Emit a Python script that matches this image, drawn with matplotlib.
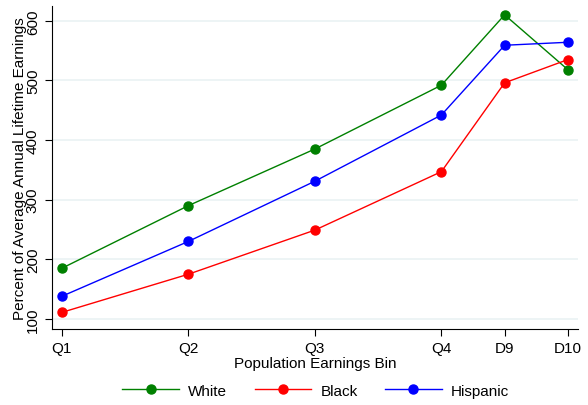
import matplotlib.pyplot as plt

plt.rcParams['font.family'] = ['Liberation Sans', 'DejaVu Sans']

# earnings bins and their positions on the x axis
bins = ['Q1', 'Q2', 'Q3', 'Q4', 'D9', 'D10']
bin_pos = [1, 3, 5, 7, 8, 9]

# percent of average annual lifetime earnings
white = [185, 290, 385, 492, 610, 518]
black = [111, 175, 249, 347, 496, 535]
hispanic = [138, 230, 331, 442, 559, 564]

fig, ax = plt.subplots(figsize=(5.88, 4.06), dpi=100)
fig.subplots_adjust(left=0.088, right=0.983, top=0.983, bottom=0.187)

ax.plot(bin_pos, white, color='green', marker='o', markersize=6.5, lw=1.0, label='White')
ax.plot(bin_pos, black, color='red', marker='o', markersize=6.5, lw=1.0, label='Black')
ax.plot(bin_pos, hispanic, color='blue', marker='o', markersize=6.5, lw=1.0, label='Hispanic')

ax.set_xlim(0.84, 9.16)
ax.set_ylim(83, 625)
ax.set_xticks(bin_pos)
ax.set_xticklabels(bins)
ax.set_yticks([100, 200, 300, 400, 500, 600])
ax.set_yticklabels(['100', '200', '300', '400', '500', '600'], rotation=90, va='center')
ax.tick_params(labelsize=11, length=5, width=0.8)
ax.yaxis.grid(True, color='#eaf2f3', lw=1.2)
ax.set_axisbelow(True)

for side in ['top', 'right']:
    ax.spines[side].set_visible(False)

ax.set_xlabel('Population Earnings Bin', fontsize=11, labelpad=1)
ax.set_ylabel('Percent of Average Annual Lifetime Earnings', fontsize=11, labelpad=-1)

fig.legend(loc='center', ncol=3, frameon=False, fontsize=11,
           bbox_to_anchor=(0.537, 0.035), handlelength=3.7, handletextpad=0.6,
           columnspacing=1.8)

plt.savefig('out.png', dpi=100)
